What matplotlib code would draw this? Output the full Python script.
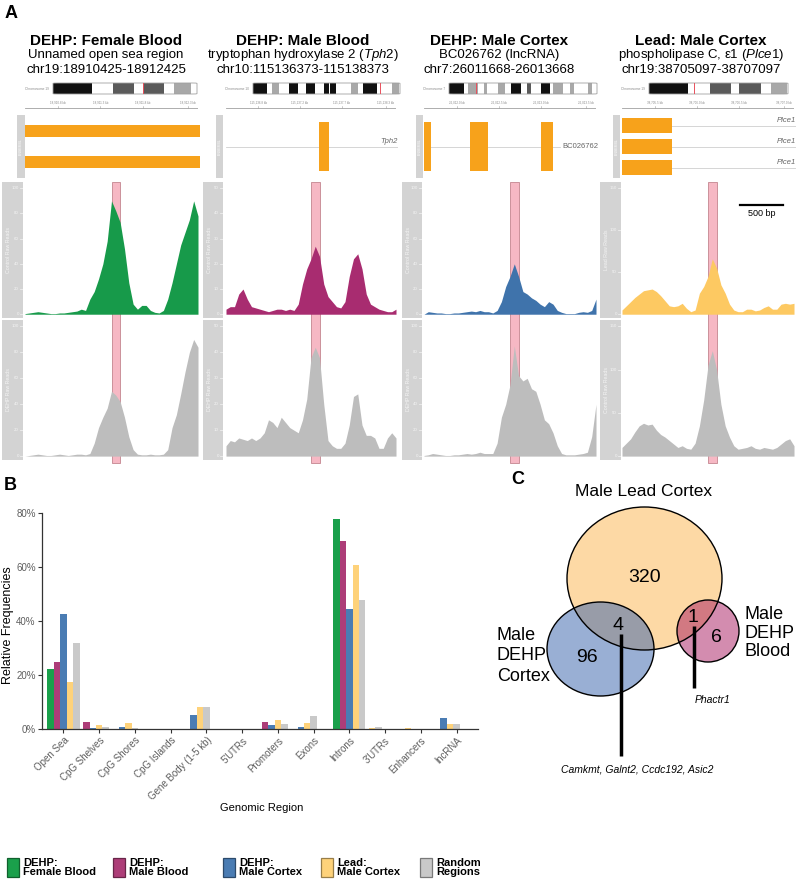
import matplotlib.colors as mcolors
import matplotlib.patches as patches
import matplotlib.pyplot as plt
import matplotlib.transforms as mtransforms
import numpy as np

FIG_W, FIG_H = 796, 883

plt.rcParams["font.family"] = ["Liberation Sans", "DejaVu Sans"]
plt.rcParams["mathtext.fontset"] = "custom"
plt.rcParams["mathtext.rm"] = "Liberation Sans"
plt.rcParams["mathtext.it"] = "Liberation Sans:italic"
plt.rcParams["mathtext.bf"] = "Liberation Sans:bold"

# Colours used in all three panels.
GREEN = "#179a4a"
MAGENTA = "#a82c70"
BLUE = "#3f73ab"
YELLOW = "#fdc962"
GRAY = "#bdbdbd"
SIDE_GRAY = "#d3d3d3"
PINK = "#f6b8c4"
ORANGE = "#f7a21b"

# ---------------------------------------------------------------- panel A data
TITLES = ["DEHP: Female Blood", "DEHP: Male Blood", "DEHP: Male Cortex", "Lead: Male Cortex"]
GENES = [
    "Unnamed open sea region",
    "tryptophan hydroxylase 2 ($\\it{Tph2}$)",
    "BC026762 (lncRNA)",
    "phospholipase C, \u03b51 ($\\it{Plce1}$)",
]
REGIONS = ["chr19:18910425-18912425", "chr10:115136373-115138373",
           "chr7:26011668-26013668", "chr19:38705097-38707097"]
CHROMS = ["19", "10", "7", "19"]
REGION_SIZE = 2000
DMR = (1000, 1100)  # highlighted window, bp from region start

# ideogram bands as fractions of the chromosome drawing: k black, d dark, l light
IDEO_BANDS = [
    [(0, .27, "k"), (.42, .56, "d"), (.625, .77, "d"), (.84, .96, "l")],
    [(0, .095, "k"), (.13, .175, "l"), (.245, .305, "k"), (.36, .42, "k"), (.48, .515, "k"),
     (.525, .565, "k"), (.67, .715, "l"), (.75, .845, "k"), (.945, .99, "l")],
    [(0, .104, "k"), (.126, .199, "l"), (.237, .26, "l"), (.33, .375, "l"), (.418, .488, "k"),
     (.53, .553, "d"), (.62, .684, "k"), (.702, .767, "l"), (.815, .842, "l"), (.939, .966, "l")],
    [(0, .28, "k"), (.436, .592, "d"), (.647, .803, "d"), (.875, .995, "l")],
]
IDEO_MARK = [0.625, 0.865, 0.183, 0.321]
BAND_COLORS = {"k": "#111111", "d": "#5a5a5a", "l": "#a8a8a8"}

# transcripts: one list of exons (bp) per row
GENE_ROWS = [
    [[(0, 2000)], [(0, 2000)]],
    [[(1080, 1200)]],
    [[(0, 80), (530, 730), (1340, 1480)]],
    [[(0, 580)], [(0, 580)], [(0, 580)]],
]
GENE_NAMES = [[None, None], ["Tph2"], ["BC026762"], ["Plce1", "Plce1", "Plce1"]]

# raw read coverage, sampled every 50 bp over the 2 kb window
COV_POS = np.linspace(0, REGION_SIZE, 41)
FEMALE_BLOOD_CTRL = [0.5, 1, 1.5, 2, 1.5, 1, 0.5, 0.5, 1, 1, 1.5, 2, 2.5, 4, 3, 12, 18, 28, 40, 58,
                     90, 82, 73, 52, 25, 8, 4, 7, 7, 3, 1.5, 1, 3, 12, 25, 40, 55, 65, 75, 90, 78]
FEMALE_BLOOD_DEHP = [0, 0.5, 1, 1.5, 1, 0.5, 0.5, 1, 1.5, 1, 0.5, 1, 1.5, 1.5, 1, 2, 10, 22, 30, 37,
                     50, 47, 42, 30, 15, 5, 1.5, 1, 1, 1.5, 1, 1, 1.5, 5, 22, 32, 48, 65, 80, 90, 84]
MALE_BLOOD_CTRL = [2, 3, 3, 8, 10, 6, 3, 2.5, 2, 1.5, 1, 1.5, 2, 2, 1.5, 2, 1.5, 4, 12, 18,
                   22, 27, 23, 12, 7, 5, 3, 2.5, 5, 15, 22, 24, 18, 8, 4, 3, 2, 1.5, 1, 1, 2]
MALE_BLOOD_DEHP = [4, 6, 5.5, 7, 6.5, 6, 7, 6, 7, 9, 14, 13, 11, 15, 13, 11, 10, 9, 14, 22,
                   38, 42, 38, 20, 6, 4, 3, 3, 5, 12, 23, 24, 12, 8, 8, 7, 3, 3, 7, 9, 7]
MALE_CORTEX_CTRL = [0, 2, 1.5, 1, 1, 0.5, 0.5, 1, 1, 1.5, 2, 2.5, 2, 3, 2, 2, 1, 3, 10, 22,
                    30, 40, 30, 18, 16, 13, 11, 8, 6, 10, 8, 3, 1.5, 0.5, 0.5, 0.5, 1.5, 2, 1.5, 3, 12]
MALE_CORTEX_DEHP = [0.5, 1, 2, 1.5, 1, 0.5, 0.5, 1, 1, 1.5, 2, 1.5, 2, 3, 2, 2, 2, 10, 30, 40,
                    55, 85, 62, 58, 60, 52, 50, 40, 28, 25, 18, 8, 2, 1, 1, 1, 1.5, 2, 3, 15, 40]
LEAD_CORTEX_LEAD = [5, 10, 15, 20, 24, 28, 29, 30, 27, 22, 16, 10, 9, 10, 13, 7, 3, 5, 25, 33,
                    45, 66, 55, 35, 25, 12, 5, 3, 3, 6, 6, 4, 5, 8, 10, 6, 6, 12, 13, 12, 13]
LEAD_CORTEX_CTRL = [10, 15, 20, 28, 35, 38, 36, 37, 30, 25, 22, 18, 14, 10, 12, 9, 8, 15, 35, 65,
                    105, 122, 100, 60, 35, 22, 12, 8, 9, 10, 12, 9, 8, 10, 9, 8, 10, 14, 18, 20, 12]

COVERAGE = [
    (FEMALE_BLOOD_CTRL, GREEN, "Control Raw Reads", FEMALE_BLOOD_DEHP, "DEHP Raw Reads", [0, 20, 40, 60, 80, 100]),
    (MALE_BLOOD_CTRL, MAGENTA, "Control Raw Reads", MALE_BLOOD_DEHP, "DEHP Raw Reads", [0, 10, 20, 30, 40, 50]),
    (MALE_CORTEX_CTRL, BLUE, "Control Raw Reads", MALE_CORTEX_DEHP, "DEHP Raw Reads", [0, 20, 40, 60, 80, 100]),
    (LEAD_CORTEX_LEAD, YELLOW, "Lead Raw Reads", LEAD_CORTEX_CTRL, "Control Raw Reads", [0, 50, 100, 150]),
]

# ---------------------------------------------------------------- panel B data
BAR_CATEGORIES = ["Open Sea", "CpG Shelves", "CpG Shores", "CpG Islands", "Gene Body (1-5 kb)",
                  "5'UTRs", "Promoters", "Exons", "Introns", "3'UTRs", "Enhancers", "lncRNA"]
N = None  # no regions of that type
FREQ_FEMALE_BLOOD = [22.2, N, N, N, N, N, N, N, 77.9, N, N, N]
FREQ_MALE_BLOOD = [25.0, 2.7, N, N, N, N, 2.7, N, 69.5, N, N, N]
FREQ_MALE_CORTEX = [42.5, 0.5, 0.9, N, 5.3, N, 1.5, 0.7, 44.3, N, N, 4.1]
FREQ_LEAD_CORTEX = [17.5, 1.4, 2.3, N, 8.2, N, 3.4, 2.3, 60.9, 0.3, 0.3, 2.0]
FREQ_RANDOM = [31.8, 0.9, 0.4, N, 8.2, N, 2.0, 4.8, 47.8, 0.8, N, 1.7]
BAR_LABELS = ["DEHP:\nFemale Blood", "DEHP:\nMale Blood", "DEHP:\nMale Cortex", "Lead:\nMale Cortex", "Random\nRegions"]
BAR_COLORS = ["#1aa04b", "#ad3d78", "#4a7cb3", "#fed27a", "#c9c9c9"]

# ---------------------------------------------------------------- panel C data
LEAD_ONLY = 320
CORTEX_ONLY = 96
BLOOD_ONLY = 6
LEAD_AND_CORTEX = 4
LEAD_AND_BLOOD = 1
SHARED_CORTEX_GENES = ["Camkmt", "Galnt2", "Ccdc192", "Asic2"]
SHARED_BLOOD_GENES = ["Phactr1"]

# pixel layout of the four columns of panel A
COL_CENTER = [106, 303, 499, 701]
SIDE_X = [(2, 23), (203, 223), (402, 422), (600, 621)]
PLOT_X = [(25, 198), (226, 396), (424, 596), (622, 794)]
IDEO_X = [(53, 197), (253, 400), (449, 597), (649, 788)]
GENE_SIDE_X = [(17, 25), (216, 223), (416, 423), (613, 620)]
EXON_H = [0.19, 0.78, 0.78, 0.25]


def px_axes(fig, x0, y0, x1, y1):
    return fig.add_axes([x0 / FIG_W, 1 - y1 / FIG_H, (x1 - x0) / FIG_W, (y1 - y0) / FIG_H])


def px_text(fig, x, y, s, **kw):
    return fig.text(x / FIG_W, 1 - y / FIG_H, s, **kw)


def bare(ax):
    ax.set_xticks([])
    ax.set_yticks([])
    for spine in ax.spines.values():
        spine.set_visible(False)


def draw_ideogram(fig, c):
    x0, x1 = IDEO_X[c]
    ax = px_axes(fig, x0, 83, x1, 94)
    ax.set_xlim(0, 1)
    ax.set_ylim(0, 1)
    ax.axis("off")
    for s, e, key in IDEO_BANDS[c]:
        ax.add_patch(patches.Rectangle((s, 0), e - s, 1, facecolor=BAND_COLORS[key], lw=0))
    ax.add_patch(patches.FancyBboxPatch((0, 0), 1, 1, boxstyle="round,pad=0,rounding_size=0.03",
                                        facecolor="none", edgecolor="#a0a0a0", lw=0.6, clip_on=False))
    ax.axvline(IDEO_MARK[c], color="#e8505c", lw=0.7)
    px_text(fig, x0 - 4, 88.5, f"Chromosome {CHROMS[c]}", fontsize=2.3, color="#8a8a8a",
            ha="right", va="center")

    # genome axis under the ideogram
    gax = px_axes(fig, PLOT_X[c][0], 100, PLOT_X[c][1], 110)
    gax.set_xlim(0, REGION_SIZE)
    gax.set_ylim(0, 1)
    gax.axis("off")
    gax.plot([0, REGION_SIZE], [0.25, 0.25], color="#a0a0a0", lw=0.6)
    start = int(REGIONS[c].split(":")[1].split("-")[0])
    for off in (380, 870, 1360, 1880):
        gax.plot([off, off], [0.25, 0.45], color="#a0a0a0", lw=0.4)
        gax.text(off, 0.55, f"{(start + off) / 1000:,.1f} kb", fontsize=2.2, color="#8a8a8a",
                 ha="center", va="bottom")


def draw_genes(fig, c):
    side = px_axes(fig, GENE_SIDE_X[c][0], 115, GENE_SIDE_X[c][1], 178)
    side.set_facecolor(SIDE_GRAY)
    bare(side)
    side.text(0.5, 0.5, "ENSEMBL", rotation=90, fontsize=2.5, color="white", ha="center", va="center",
              transform=side.transAxes)

    ax = px_axes(fig, PLOT_X[c][0], 115, PLOT_X[c][1] + 2, 178)
    ax.set_xlim(0, REGION_SIZE)
    ax.set_ylim(1, 0)
    ax.axis("off")
    rows = GENE_ROWS[c]
    h = EXON_H[c]
    for r, exons in enumerate(rows):
        yc = (r + 0.5) / len(rows)
        name = GENE_NAMES[c][r]
        if name == "BC026762":
            ax.plot([0, 1560], [yc, yc], color="#cfcfcf", lw=0.6, zorder=1)
            ax.text(1590, yc, name, fontsize=5.5, color="#666666", ha="left", va="center")
        elif name is not None:
            ax.plot([0, REGION_SIZE], [yc, yc], color="#cfcfcf", lw=0.6, zorder=1)
            ax.text(REGION_SIZE - 5, yc - 0.03, name, fontsize=5.5, color="#666666", style="italic",
                    ha="right", va="bottom")
        for s, e in exons:
            ax.add_patch(patches.Rectangle((s, yc - h / 2), e - s, h, facecolor=ORANGE, lw=0, zorder=2))


def draw_coverage(fig, c, y0, y1, values, color, label, ticks):
    ymax = ticks[-1]
    lo, hi = -0.03 * ymax, 1.05 * ymax

    side = px_axes(fig, SIDE_X[c][0], y0, SIDE_X[c][1], y1)
    side.set_facecolor(SIDE_GRAY)
    bare(side)
    side.set_xlim(0, 1)
    side.set_ylim(lo, hi)
    for t in ticks:
        side.text(0.8, t, str(t), fontsize=3.2, color="#f4f4f4", ha="right", va="center")
        side.plot([0.86, 1.0], [t, t], color="#f4f4f4", lw=0.5)
    side.text(0.3, (lo + hi) / 2, label, rotation=90, fontsize=3.8, color="#f4f4f4",
              ha="center", va="center")

    ax = px_axes(fig, PLOT_X[c][0], y0, PLOT_X[c][1], y1)
    ax.fill_between(COV_POS, values, color=color, lw=0, zorder=2)
    ax.set_xlim(0, REGION_SIZE)
    ax.set_ylim(lo, hi)
    ax.axis("off")
    return ax


def draw_panel_a(fig):
    px_text(fig, 5, 13, "A", fontsize=13, fontweight="bold", ha="left", va="center")
    for c in range(4):
        px_text(fig, COL_CENTER[c], 41, TITLES[c], fontsize=11, fontweight="bold", ha="center", va="center")
        px_text(fig, COL_CENTER[c], 55, GENES[c], fontsize=9.5, ha="center", va="center")
        px_text(fig, COL_CENTER[c], 70, REGIONS[c], fontsize=9.5, ha="center", va="center")
        draw_ideogram(fig, c)
        draw_genes(fig, c)

        top_vals, color, top_label, bot_vals, bot_label, ticks = COVERAGE[c]
        top_ax = draw_coverage(fig, c, 182, 318, top_vals, color, top_label, ticks)
        draw_coverage(fig, c, 320, 460, bot_vals, GRAY, bot_label, ticks)

        # DMR highlight spans both tracks and pokes out below
        trans = mtransforms.blended_transform_factory(top_ax.transData, fig.transFigure)
        band = patches.Rectangle((DMR[0], 1 - 463 / FIG_H), DMR[1] - DMR[0], (463 - 182) / FIG_H,
                                 transform=trans, facecolor=PINK, edgecolor="#c4858f", lw=0.6, zorder=-1)
        fig.add_artist(band)

        if c == 3:
            tr = mtransforms.blended_transform_factory(top_ax.transData, top_ax.transAxes)
            top_ax.plot([1375, 1875], [0.83, 0.83], color="black", lw=1.6, transform=tr, clip_on=False)
            top_ax.text(1625, 0.77, "500 bp", fontsize=6.5, ha="center", va="center", transform=tr)


def draw_panel_b(fig):
    px_text(fig, 4, 485, "B", fontsize=13, fontweight="bold", ha="left", va="center")
    ax = px_axes(fig, 42, 513, 478, 729)
    series = [FREQ_FEMALE_BLOOD, FREQ_MALE_BLOOD, FREQ_MALE_CORTEX, FREQ_LEAD_CORTEX, FREQ_RANDOM]
    width = 0.18
    for i in range(len(BAR_CATEGORIES)):
        slot = 0
        for vals, color in zip(series, BAR_COLORS):
            if vals[i] is None:
                continue
            # present bars fill the dodge slots from the left
            ax.bar(i - 0.45 + (slot + 0.5) * width, vals[i] / 100, width=width, color=color, lw=0)
            slot += 1

    ax.set_xlim(-0.6, len(BAR_CATEGORIES) - 0.4)
    ax.set_ylim(0, 0.8)
    for side in ["top", "right"]:
        ax.spines[side].set_visible(False)
    for side in ["left", "bottom"]:
        ax.spines[side].set_color("#333333")
        ax.spines[side].set_linewidth(0.9)
    ax.set_yticks([0, 0.2, 0.4, 0.6, 0.8])
    ax.set_yticklabels(["0%", "20%", "40%", "60%", "80%"])
    ax.set_xticks(range(len(BAR_CATEGORIES)))
    ax.set_xticklabels(BAR_CATEGORIES, rotation=45, ha="right", rotation_mode="anchor")
    ax.tick_params(labelsize=7, labelcolor="#5e5e5e", color="#333333", length=3, width=0.8, pad=1.5)
    ax.set_ylabel("Relative Frequencies", fontsize=9)
    ax.yaxis.set_label_coords(-0.064, 0.48)
    px_text(fig, 262, 808, "Genomic Region", fontsize=8, ha="center", va="center")

    box_x = [7, 113, 223, 321, 420]
    for x, color, label in zip(box_x, BAR_COLORS, BAR_LABELS):
        edge = tuple(v * 0.6 for v in mcolors.to_rgb(color))
        fig.add_artist(patches.Rectangle((x / FIG_W, 1 - 877 / FIG_H), 12 / FIG_W, 19 / FIG_H,
                                         transform=fig.transFigure, facecolor=color, edgecolor=edge, lw=0.9))
        px_text(fig, x + 16, 867.5, label, fontsize=8, fontweight="bold", ha="left", va="center",
                linespacing=0.95)


def draw_panel_c(fig):
    px_text(fig, 518, 479, "C", fontsize=13, fontweight="bold", ha="center", va="center")
    ax = px_axes(fig, 490, 470, 796, 800)
    ax.set_xlim(490, 796)
    ax.set_ylim(800, 470)
    ax.axis("off")

    circles = [
        ((644.5, 578.5), 155, 143, mcolors.to_rgba("#fdd9a5", 1.0)),
        ((600.5, 649), 107, 94, mcolors.to_rgba("#3560ab", 0.5)),
        ((708, 631), 62, 62, mcolors.to_rgba("#a91b60", 0.5)),
    ]
    for xy, w, h, fc in circles:
        ax.add_patch(patches.Ellipse(xy, w, h, facecolor=fc, lw=0))
    for xy, w, h, fc in circles:
        ax.add_patch(patches.Ellipse(xy, w, h, facecolor="none", edgecolor="black", lw=1.0))

    ax.text(644, 492, "Male Lead Cortex", fontsize=12.5, ha="center", va="center")
    ax.text(645, 578, str(LEAD_ONLY), fontsize=14, ha="center", va="center")
    ax.text(587, 657, str(CORTEX_ONLY), fontsize=14, ha="center", va="center")
    ax.text(618, 626, str(LEAD_AND_CORTEX), fontsize=14, ha="center", va="center")
    ax.text(693, 617, str(LEAD_AND_BLOOD), fontsize=14, ha="center", va="center")
    ax.text(716, 637, str(BLOOD_ONLY), fontsize=14, ha="center", va="center")
    ax.text(497, 656, "Male\nDEHP\nCortex", fontsize=13, ha="left", va="center", linespacing=1.25)
    ax.text(745, 633, "Male\nDEHP\nBlood", fontsize=13, ha="left", va="center", linespacing=1.1)

    ax.plot([620.5, 620.5], [634, 756], color="black", lw=2.5, solid_capstyle="butt")
    ax.text(637, 769, ", ".join(SHARED_CORTEX_GENES), fontsize=7.5, style="italic", ha="center", va="center")
    ax.plot([694, 694], [626, 688], color="black", lw=2.5, solid_capstyle="butt")
    ax.text(713, 700, ", ".join(SHARED_BLOOD_GENES), fontsize=7.5, style="italic", ha="center", va="center")


fig = plt.figure(figsize=(FIG_W / 100, FIG_H / 100), dpi=100)
draw_panel_a(fig)
draw_panel_b(fig)
draw_panel_c(fig)
fig.savefig("out.png", dpi=100)
plt.close()
